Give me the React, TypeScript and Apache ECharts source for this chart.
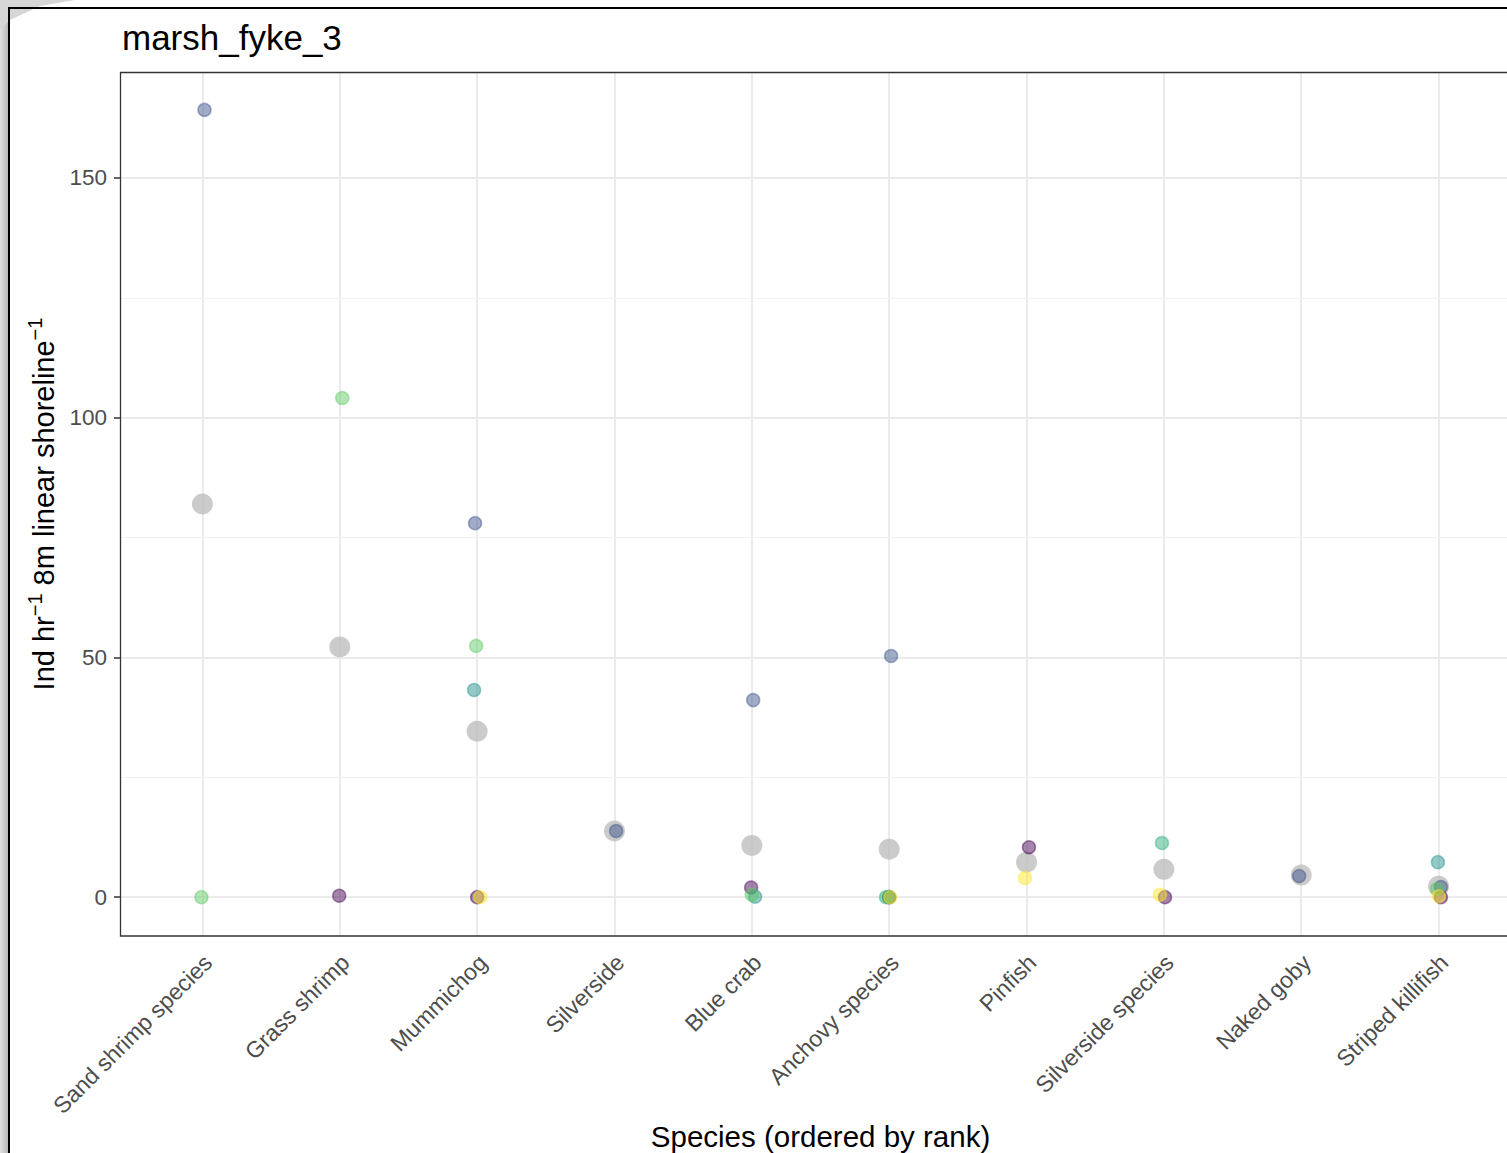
import React, { useEffect, useRef } from "react";
import * as echarts from "echarts";

const chartTitle = "marsh_fyke_3";
const yAxisTitle = "Ind hr{sup|−1} 8m linear shoreline{sup|−1}";
const xAxisTitle = "Species (ordered by rank)";

const categories = [
  "Sand shrimp species",
  "Grass shrimp",
  "Mummichog",
  "Silverside",
  "Blue crab",
  "Anchovy species",
  "Pinfish",
  "Silverside species",
  "Naked goby",
  "Striped killifish",
];

const yTickValues = [0, 50, 100, 150];
const yMinorGridValues = [25, 75, 125];

// grey (larger) dots: mean per species
const meanValues = [82.0, 52.2, 34.6, 13.8, 10.8, 10.0, 7.3, 5.8, 4.6, 2.3];

// coloured dots per group (null = absent)
const purpleValues = [null, 0.3, 0, null, 2.0, 0, 10.4, 0, null, 0];
const blueValues = [164.2, null, 78.0, 13.8, 41.1, 50.3, null, null, 4.4, 2.1];
const tealValues = [null, null, 43.2, null, 0.1, 0, null, null, null, 7.3];
const greenValues = [null, null, null, null, null, 0, null, 11.3, null, null];
const lightGreenValues = [0, 104.1, 52.4, null, 0.5, null, null, null, null, 1.7];
const yellowValues = [null, null, 0, null, null, 0, 4.0, 0.5, null, 0.2];

// horizontal jitter (in category units)
const purpleJitter = [0, -0.004, 0, 0, -0.005, 0, 0.018, 0.008, 0, 0.017];
const blueJitter = [0.015, 0, -0.015, 0.012, 0.01, 0.014, 0, 0, -0.015, 0.017];
const tealJitter = [0, 0, -0.022, 0, 0.024, 0, 0, 0, 0, -0.005];
const greenJitter = [0, 0, 0, 0, 0, -0.023, 0, -0.014, 0, 0];
const lightGreenJitter = [-0.007, 0.018, -0.007, 0, 0, 0, 0, 0, 0, -0.012];
const yellowJitter = [0, 0, 0.022, 0, 0, 0.007, -0.011, -0.029, 0, 0.002];

const groups = [
  { name: "g1", rgb: "68,1,84", values: purpleValues, jitter: purpleJitter },
  { name: "g2", rgb: "59,82,139", values: blueValues, jitter: blueJitter },
  { name: "g3", rgb: "33,144,140", values: tealValues, jitter: tealJitter },
  { name: "g4", rgb: "40,174,120", values: greenValues, jitter: greenJitter },
  { name: "g5", rgb: "93,200,99", values: lightGreenValues, jitter: lightGreenJitter },
  { name: "g6", rgb: "253,231,37", values: yellowValues, jitter: yellowJitter },
];

const FONT = "'Liberation Sans', Arial, Helvetica, sans-serif";

export default function App() {
  const ref = useRef<HTMLDivElement>(null);

  useEffect(() => {
    if (!ref.current) return;
    const chart = echarts.init(ref.current, null, { renderer: "svg" });
    const catIdx = categories.map((_, i) => i + 1);

    const gridLines: any[] = [];
    catIdx.forEach((x) =>
      gridLines.push({ xAxis: x, lineStyle: { color: "#ebebeb", width: 2, type: "solid" } })
    );
    yMinorGridValues.forEach((y) =>
      gridLines.push({ yAxis: y, lineStyle: { color: "#f2f2f2", width: 1.2, type: "solid" } })
    );
    yTickValues.forEach((y) =>
      gridLines.push({ yAxis: y, lineStyle: { color: "#ebebeb", width: 2, type: "solid" } })
    );

    const groupSeries = groups.map((g) => ({
      type: "scatter",
      name: g.name,
      z: 4,
      symbol: "circle",
      symbolSize: 13,
      itemStyle: {
        color: `rgba(${g.rgb},0.6)`,
        borderColor: `rgba(${g.rgb},0.55)`,
        borderWidth: 1.5,
      },
      data: g.values
        .map((v, i) => (v == null ? null : [i + 1 + g.jitter[i], v]))
        .filter((d) => d != null),
    }));

    chart.setOption({
      animation: false,
      backgroundColor: "#ffffff",
      textStyle: { fontFamily: FONT },
      title: {
        text: chartTitle,
        left: 117,
        top: 15,
        textStyle: { fontSize: 35, fontWeight: "normal", color: "#000", fontFamily: FONT },
      },
      grid: {
        left: 120,
        top: 72,
        width: 1401,
        height: 864,
        show: false,
        outerBoundsMode: "none",
        containLabel: false,
      },
      xAxis: {
        type: "value",
        min: 0.4,
        max: 10.6,
        name: xAxisTitle,
        nameLocation: "middle",
        nameGap: 185,
        nameMoveOverlap: false,
        nameTextStyle: { fontSize: 29.5, color: "#000", fontFamily: FONT },
        axisLine: { show: false },
        splitLine: { show: false },
        axisTick: {
          show: true,
          customValues: catIdx,
          length: 6,
          lineStyle: { color: "#333", width: 1.5 },
        },
        axisLabel: {
          show: true,
          customValues: catIdx,
          rotate: 45,
          margin: 17,
          fontSize: 23,
          lineHeight: 16,
          verticalAlign: "top",
          color: "#4d4d4d",
          fontFamily: FONT,
          formatter: (v: number) => categories[Math.round(v) - 1] ?? "",
        },
      },
      yAxis: {
        type: "value",
        min: -8.1,
        max: 172.1,
        name: yAxisTitle,
        nameLocation: "middle",
        nameRotate: 90,
        nameGap: 57,
        nameMoveOverlap: false,
        nameTextStyle: {
          fontSize: 29,
          color: "#000",
          fontFamily: FONT,
          lineHeight: 38,
          rich: {
            sup: { fontSize: 20, color: "#000", fontFamily: FONT, verticalAlign: "top", lineHeight: 20 },
          },
        },
        axisLine: { show: false },
        splitLine: { show: false },
        axisTick: {
          show: true,
          customValues: yTickValues,
          length: 6,
          lineStyle: { color: "#333", width: 1.5 },
        },
        axisLabel: {
          show: true,
          customValues: yTickValues,
          margin: 13,
          fontSize: 22.5,
          color: "#4d4d4d",
          fontFamily: FONT,
        },
      },
      graphic: [
        {
          type: "rect",
          shape: { x: 0, y: 0, width: 8, height: 1153 },
          style: {
            fill: new echarts.graphic.LinearGradient(0, 0, 1, 0, [
              { offset: 0, color: "#e2e2e2" },
              { offset: 1, color: "#b8b8b8" },
            ]),
          },
          silent: true,
        },
        {
          type: "polygon",
          shape: { points: [[0, 0], [75, 0], [40, 6], [10, 20], [0, 30]] },
          style: { fill: "#d6d6d6" },
          silent: true,
        },
        {
          type: "rect",
          shape: { x: 8, y: 7, width: 1499, height: 2 },
          style: { fill: "#000" },
          silent: true,
        },
        {
          type: "rect",
          shape: { x: 8, y: 7, width: 2, height: 1146 },
          style: { fill: "#000" },
          silent: true,
        },
        {
          type: "rect",
          z: 10,
          shape: { x: 120.5, y: 72.5, width: 1401, height: 863.5 },
          style: { fill: "none", stroke: "#333333", lineWidth: 1.3 },
          silent: true,
        },
      ],
      series: [
        {
          type: "scatter",
          name: "grid",
          z: 1,
          data: [],
          markLine: {
            z: 1,
            silent: true,
            symbol: "none",
            label: { show: false },
            data: gridLines,
          },
        },
        {
          type: "scatter",
          name: "mean",
          z: 3,
          symbol: "circle",
          symbolSize: 21,
          itemStyle: { color: "#bebebe" },
          data: meanValues.map((v, i) => [i + 1, v]),
        },
        ...groupSeries,
      ],
    });

    return () => chart.dispose();
  }, []);

  return (
    <div
      ref={ref}
      style={{ position: "fixed", left: 0, top: 0, width: 1507, height: 1153 }}
    />
  );
}
